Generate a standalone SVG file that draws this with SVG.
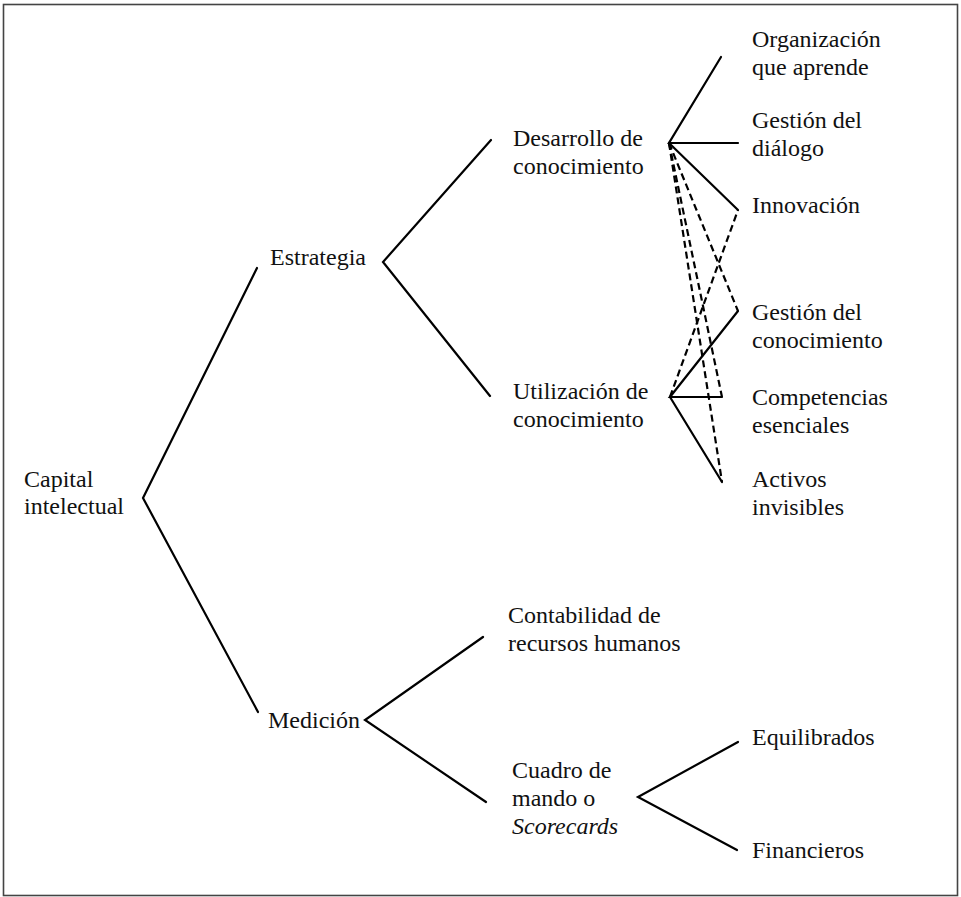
<svg xmlns="http://www.w3.org/2000/svg" width="961" height="897" viewBox="0 0 961 897">
<style>
text{font-family:"Liberation Serif","Times New Roman",serif;font-size:24px;fill:#111}
.it{font-style:italic}
.s{stroke:#000;stroke-width:2.2;fill:none;stroke-linecap:round}
.d{stroke:#000;stroke-width:2.2;fill:none;stroke-dasharray:7 4}
</style>
<rect x="3.5" y="4.5" width="954" height="891" fill="#fff" stroke="#444" stroke-width="1.6"/>
<g id="connectors">
<polyline class="s" points="257,268 143,498 258,712"/>
<polyline class="s" points="491,140 383,262 490,396"/>
<polyline class="s" points="721,57 669,143 738,143"/>
<line class="s" x1="669" y1="143" x2="738" y2="210"/>
<polyline class="s" points="738,311 670,397 722,397"/>
<line class="s" x1="670" y1="397" x2="722" y2="482"/>
<polyline class="s" points="483,637 365,720 486,802"/>
<polyline class="s" points="738,742 638,797 737,850"/>
<line class="d" x1="669" y1="143" x2="738" y2="311"/>
<line class="d" x1="669" y1="143" x2="722" y2="397"/>
<line class="d" x1="669" y1="143" x2="722" y2="482"/>
<line class="d" x1="670" y1="397" x2="738" y2="210"/>
</g>
<g id="capital"><text x="24" y="487">Capital</text><text x="24" y="514">intelectual</text></g>
<g id="estrategia"><text x="270" y="265">Estrategia</text></g>
<g id="medicion"><text x="268" y="728">Medición</text></g>
<g id="desarrollo"><text x="513" y="146">Desarrollo de</text><text x="513" y="174">conocimiento</text></g>
<g id="utilizacion"><text x="513" y="399">Utilización de</text><text x="513" y="427">conocimiento</text></g>
<g id="organizacion"><text x="752" y="47">Organización</text><text x="752" y="75">que aprende</text></g>
<g id="dialogo"><text x="752" y="128">Gestión del</text><text x="752" y="156">diálogo</text></g>
<g id="innovacion"><text x="752" y="213">Innovación</text></g>
<g id="gestion-conocimiento"><text x="752" y="320">Gestión del</text><text x="752" y="348">conocimiento</text></g>
<g id="competencias"><text x="752" y="405">Competencias</text><text x="752" y="433">esenciales</text></g>
<g id="activos"><text x="752" y="487">Activos</text><text x="752" y="515">invisibles</text></g>
<g id="contabilidad"><text x="508" y="623">Contabilidad de</text><text x="508" y="651">recursos humanos</text></g>
<g id="cuadro"><text x="512" y="778">Cuadro de</text><text x="512" y="806">mando o</text><text x="512" y="834" class="it">Scorecards</text></g>
<g id="equilibrados"><text x="752" y="745">Equilibrados</text></g>
<g id="financieros"><text x="752" y="858">Financieros</text></g>
</svg>
